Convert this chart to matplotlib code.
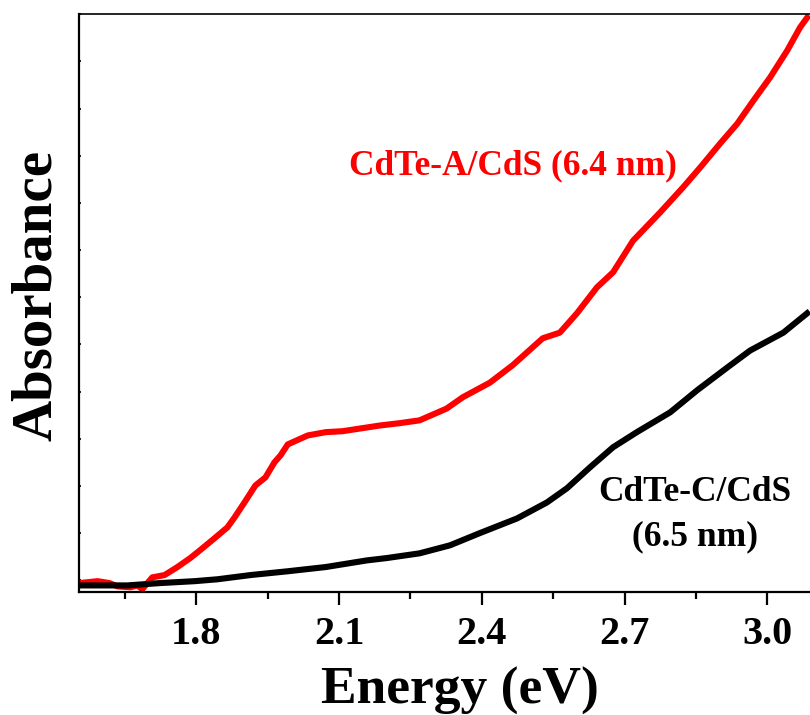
import numpy as np
import matplotlib
matplotlib.use('Agg')
import matplotlib.pyplot as plt
from matplotlib.ticker import MultipleLocator

# Data (energy in eV, absorbance in arbitrary units)
energy_a = [1.554, 1.592, 1.617, 1.634, 1.661, 1.676, 1.686, 1.707, 1.733, 1.760,
            1.787, 1.808, 1.838, 1.865, 1.880, 1.901, 1.924, 1.945, 1.964, 1.977,
            1.992, 2.034, 2.072, 2.107, 2.185, 2.227, 2.269, 2.326, 2.360, 2.417,
            2.465, 2.528, 2.564, 2.600, 2.642, 2.676, 2.718, 2.775, 2.823, 2.859,
            2.901, 2.937, 2.971, 3.006, 3.042, 3.069, 3.084]
absorb_a = [-0.006, -0.002, -0.006, -0.013, -0.015, -0.011, -0.019, 0.006, 0.011, 0.028,
            0.047, 0.064, 0.089, 0.112, 0.133, 0.165, 0.201, 0.218, 0.250, 0.265,
            0.288, 0.307, 0.314, 0.316, 0.328, 0.333, 0.339, 0.364, 0.388, 0.419,
            0.456, 0.513, 0.525, 0.566, 0.621, 0.653, 0.720, 0.780, 0.833, 0.875,
            0.926, 0.968, 1.017, 1.066, 1.123, 1.172, 1.193]

energy_c = [1.554, 1.655, 1.724, 1.796, 1.844, 1.914, 1.992, 2.072, 2.158, 2.200,
            2.269, 2.333, 2.396, 2.474, 2.537, 2.579, 2.627, 2.676, 2.726, 2.796,
            2.853, 2.916, 2.964, 3.034, 3.084]
absorb_c = [-0.011, -0.011, -0.006, -0.002, 0.002, 0.011, 0.019, 0.028, 0.042, 0.047,
            0.057, 0.074, 0.100, 0.131, 0.165, 0.195, 0.239, 0.282, 0.314, 0.356,
            0.403, 0.451, 0.487, 0.525, 0.566]

label_a = 'CdTe-A/CdS (6.4 nm)'
label_c = 'CdTe-C/CdS\n(6.5 nm)'

plt.rcParams['font.family'] = ['Liberation Serif', 'DejaVu Serif']
plt.rcParams['font.weight'] = 'bold'

fig = plt.figure(figsize=(8.1, 7.15), dpi=100)
ax = fig.add_axes([0.0975, 0.172, 0.9025, 0.808])

ax.plot(energy_a, absorb_a, color='#ff0000', lw=4.4, solid_joinstyle='round')
ax.plot(energy_c, absorb_c, color='black', lw=4.4, solid_joinstyle='round')

ax.set_xlim(1.553, 3.090)
ax.set_ylim(-0.025, 1.2)

ax.xaxis.set_major_locator(MultipleLocator(0.3))
ax.xaxis.set_minor_locator(MultipleLocator(0.15))
ax.yaxis.set_major_locator(MultipleLocator(0.1))
ax.tick_params(axis='x', which='major', direction='out', length=9, width=1.6,
               labelsize=29, pad=8)
ax.tick_params(axis='x', which='minor', direction='out', length=5, width=1.6)
ax.tick_params(axis='y', which='major', direction='in', length=1.5, width=1.2,
               labelleft=False)
for lab in ax.get_xticklabels():
    lab.set_fontweight('bold')

ax.spines['right'].set_visible(False)
ax.spines['left'].set_linewidth(1.6)
ax.spines['bottom'].set_linewidth(1.6)
ax.spines['top'].set_linewidth(1.2)

ax.set_xlabel('Energy (eV)', fontsize=38.5, fontweight='bold')
ax.xaxis.set_label_coords(0.521, -0.129, transform=ax.transAxes)
ax.xaxis.label.set_va('top')
ax.set_ylabel('Absorbance', fontsize=41, fontweight='bold')
ax.yaxis.set_label_coords(-0.058, 0.514, transform=ax.transAxes)
ax.yaxis.label.set_va('center')

ax.text(2.466, 0.879, label_a, color='#ff0000', fontsize=25.5, fontweight='bold',
        ha='center', va='center')
ax.text(2.848, 0.140, label_c, color='black', fontsize=25.5, fontweight='bold',
        ha='center', va='center', linespacing=1.45)

fig.savefig('out.png', dpi=100)
